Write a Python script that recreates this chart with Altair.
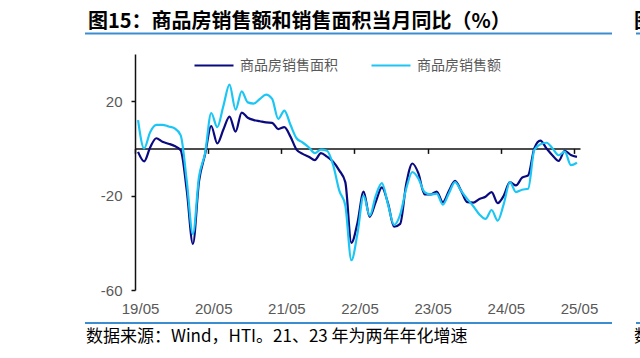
import json
import altair as alt
import pandas as pd

# ---------------- data ----------------
months = [d.strftime("%Y-%m") for d in pd.date_range("2019-05-01", "2025-05-01", freq="MS")]

area_yoy = [
    -1.5, -5.5, 0.5, 4.3, 2.8, 2.0, 1.0, -0.8, -18.0, -40.5, -14.0, -2.5,
    9.5, 2.1, 8.0, 13.5, 7.1, 15.2, 13.0, 12.0, 11.5, 11.0, 10.8, 8.2,
    9.0, 5.0, -0.5, -2.3, -3.5, -5.0, -2.0, -3.5, -5.7, -9.3, -14.3, -40.0,
    -31.5, -18.3, -29.0, -22.6, -16.5, -23.2, -33.2, -32.0, -15.0, -6.4, -10.6, -19.5,
    -19.5, -18.3, -22.8, -18.0, -13.8, -18.0, -22.8, -23.0, -21.4, -20.5, -18.5, -23.2,
    -20.0, -14.3, -15.7, -12.4, -11.4, 0.0, 3.3, 0.0, -3.0, -5.3, -1.0, -2.8,
    -3.6,
]
amount_yoy = [
    12.0, 0.0, 7.0, 10.0, 10.0, 9.3, 8.5, 5.5, -14.0, -36.3, -12.0, -2.0,
    15.0, 9.0, 18.0, 27.0, 16.4, 24.2, 19.5, 19.0, 21.0, 22.8, 21.0, 12.5,
    16.0, 10.0, 4.3, 2.5, 0.5, -2.0, -0.5, -1.0, -7.0, -17.8, -24.2, -47.4,
    -36.0, -20.0, -28.5, -20.0, -14.7, -23.7, -32.4, -28.0, -17.0, -10.0, -12.8, -18.5,
    -19.5, -19.2, -23.8, -19.0, -14.3, -18.0, -21.4, -24.5, -28.0, -29.9, -26.1, -30.6,
    -23.5, -14.3, -18.5, -17.5, -17.1, -0.7, 1.8, 2.4, 0.0, -2.9, -1.4, -7.1,
    -6.1,
]

series_names = ["商品房销售面积", "商品房销售额"]
series_colors = ["#0A0A80", "#1CC6F4"]
x_labels = ["19/05", "20/05", "21/05", "22/05", "23/05", "24/05", "25/05"]
y_ticks = [20, -20, -60]

title_text = "图15：商品房销售额和销售面积当月同比（%）"
source_text = "数据来源：Wind，HTI。21、23 年为两年年化增速"

n = len(months)
df = pd.DataFrame({
    "idx": list(range(n)) * 2,
    "month": months * 2,
    "series": [series_names[0]] * n + [series_names[1]] * n,
    "value": area_yoy + amount_yoy,
})

# ---------------- layout constants ----------------
W, H = 445, 236
PAD = {"left": 135, "top": 54, "right": 60, "bottom": 68}
FONT_CN = "Noto Sans CJK SC"
FONT_NUM = "Liberation Sans"
GREY = "#595959"
BLUE = "#3C8DD0"

xscale = alt.Scale(domain=[-0.5, n - 0.5], nice=False, zero=False)
yscale = alt.Scale(domain=[-60, 40], nice=False, zero=False)

y_axis = alt.Axis(
    values=y_ticks, title=None, grid=False, orient="left",
    labelExpr="datum.value < 0 ? '-' + abs(datum.value) : '' + datum.value",
    domainColor="#111111", domainWidth=1.5,
    tickColor="#111111", tickSize=4, tickWidth=1.5,
    labelColor=GREY, labelFont=FONT_NUM, labelFontSize=15, labelPadding=9,
)

label_axis = alt.Axis(
    orient="bottom",
    values=[12 * i for i in range(len(x_labels))],
    labelExpr=f"{json.dumps(x_labels)}[round(datum.value / 12)]",
    title=None, grid=False, domain=False, ticks=False,
    labelColor=GREY, labelFont=FONT_NUM, labelFontSize=15, labelPadding=11,
    labelOffset=2,
)

zero_axis = alt.Axis(
    orient="bottom",
    values=[12 * i - 0.5 for i in range(len(x_labels))],
    labels=False, title=None, grid=False,
    domainColor="#111111", domainWidth=1.5,
    tickColor="#111111", tickSize=5, tickWidth=1.5,
    offset=-(H * 0.6),
)

legend = alt.Legend(
    orient="none", legendX=58, legendY=-9.5, direction="horizontal", title=None,
    symbolType="stroke", symbolSize=1521, symbolStrokeWidth=2.2,
    labelFont=FONT_CN, labelFontSize=14, labelColor=GREY, labelOffset=5,
    columnPadding=29, padding=0,
)

lines = alt.Chart(df).mark_line(strokeWidth=2.2, interpolate="monotone").encode(
    x=alt.X("idx:Q", scale=xscale, axis=label_axis),
    y=alt.Y("value:Q", scale=yscale, axis=y_axis),
    color=alt.Color("series:N", scale=alt.Scale(domain=series_names, range=series_colors),
                    legend=legend),
    order=alt.Order("idx:Q"),
)

zero_line = alt.Chart(df).mark_line(opacity=0).encode(
    x=alt.X("idx:Q", scale=xscale, axis=zero_axis),
    y=alt.Y("value:Q", scale=yscale, axis=y_axis),
)

title_df = pd.DataFrame({"t": [title_text]})
source_df = pd.DataFrame({"t": [source_text]})
frag_df = pd.DataFrame({"t": ["图"]})
frag2_df = pd.DataFrame({"t": ["数"]})
one = pd.DataFrame({"k": [0]})

title_mark = alt.Chart(title_df).mark_text(
    align="left", baseline="middle", font=FONT_CN, fontSize=20, fontWeight="bold", color="#000000"
).encode(x=alt.value(-47), y=alt.value(-32), text="t:N")

frag_mark = alt.Chart(frag_df).mark_text(
    align="left", baseline="middle", font=FONT_CN, fontSize=20, fontWeight="bold", color="#000000"
).encode(x=alt.value(499), y=alt.value(-32), text="t:N")

source_mark = alt.Chart(source_df).mark_text(
    align="left", baseline="middle", font=FONT_CN, fontSize=17, color="#000000"
).encode(x=alt.value(-49), y=alt.value(283), text="t:N")

frag2_mark = alt.Chart(frag2_df).mark_text(
    align="left", baseline="middle", font=FONT_CN, fontSize=17, color="#000000"
).encode(x=alt.value(499), y=alt.value(283), text="t:N")

top_rule = alt.Chart(one).mark_rule(color=BLUE, strokeWidth=2).encode(
    x=alt.value(-50), x2=alt.value(477), y=alt.value(-20.5))
top_rule2 = alt.Chart(one).mark_rule(color=BLUE, strokeWidth=2).encode(
    x=alt.value(501), x2=alt.value(520), y=alt.value(-20.5))
bot_rule = alt.Chart(one).mark_rule(color=BLUE, strokeWidth=2).encode(
    x=alt.value(-50), x2=alt.value(477), y=alt.value(269))
bot_rule2 = alt.Chart(one).mark_rule(color=BLUE, strokeWidth=2).encode(
    x=alt.value(501), x2=alt.value(520), y=alt.value(269))

chart = alt.layer(
    zero_line, lines, title_mark, frag_mark, source_mark, frag2_mark,
    top_rule, top_rule2, bot_rule, bot_rule2,
).resolve_axis(x="independent").properties(
    width=W, height=H, padding=PAD,
    autosize=alt.AutoSizeParams(type="none"),
    background="white",
).configure_view(stroke=None)

chart.save("out.html", embed_options={"renderer": "svg", "actions": False})
